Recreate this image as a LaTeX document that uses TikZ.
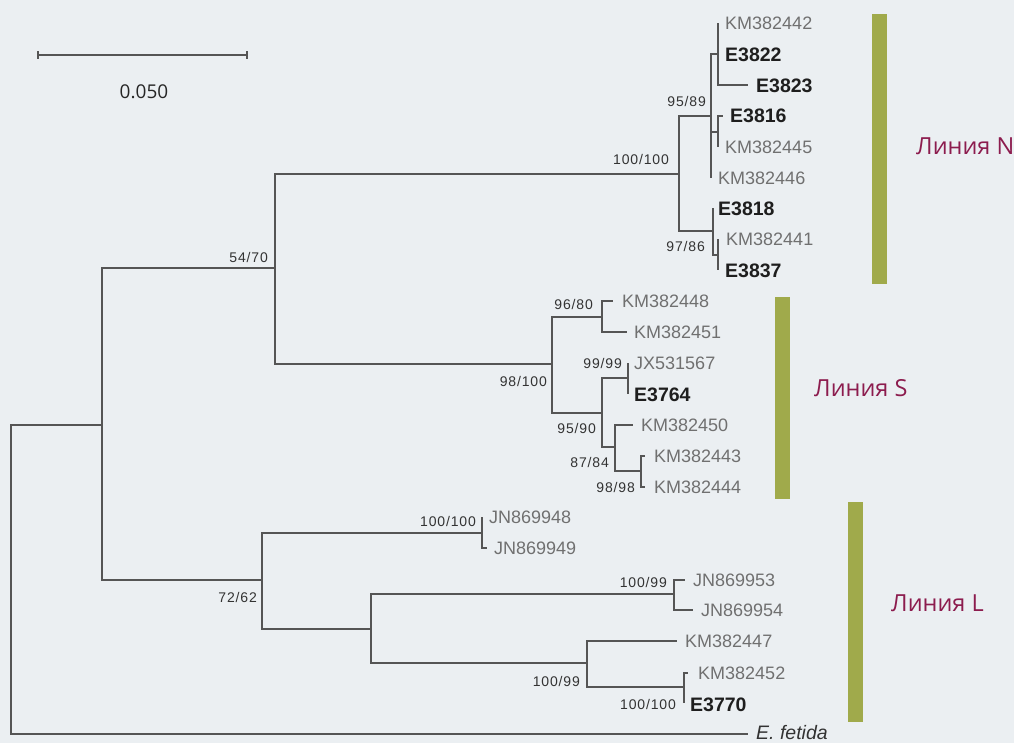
\documentclass[tikz,border=0pt]{standalone}
\usepackage{fontspec}
\setmainfont{Liberation Sans}
\newfontfamily\osans{Open Sans}
\newfontfamily\bsfont[LetterSpace=6]{Liberation Sans}
\definecolor{bg}{RGB}{235,239,242}
\definecolor{br}{RGB}{85,85,85}
\definecolor{lg}{RGB}{112,112,112}
\definecolor{dk}{RGB}{30,30,30}
\definecolor{barc}{RGB}{160,170,75}
\definecolor{lin}{RGB}{140,28,78}
\begin{document}
\begin{tikzpicture}[x=1pt,y=-1pt,
  branch/.style={draw=br, line width=1.3pt},
  leafg/.style={anchor=west, inner sep=0pt, text height=13pt, text depth=0pt, font=\fontsize{18}{18}\selectfont, text=lg},
  leafb/.style={leafg, text height=14pt, font=\fontsize{19.5}{19.5}\selectfont\bfseries, text=dk},
  bs/.style={anchor=east, inner sep=0pt, text height=10pt, text depth=0pt, font=\bsfont\fontsize{14}{14}\selectfont, text=black!80},
  clade/.style={anchor=west, inner sep=0pt, font=\osans\fontsize{23.5}{23.5}\selectfont, text=lin, text height=17pt, text depth=0pt},
  barst/.style={fill=barc, draw=none}]
\fill[bg] (0,0) rectangle (1014,743);
\useasboundingbox (0,0) rectangle (1014,743);

% scale bar
\coordinate (s1) at (38,55);
\coordinate (s2) at (247,55);
\draw[branch] (s1) -- (s2);
\draw[branch] ([yshift=-4pt]s1) -- ([yshift=4pt]s1);
\draw[branch] ([yshift=-4pt]s2) -- ([yshift=4pt]s2);
\node[inner sep=0pt, font=\osans\fontsize{19}{19}\selectfont, text=black!85] (scl) at (144,92) {0.050};

% internal nodes
\coordinate (r) at (11,580);
\coordinate (A) at (102,425);
\coordinate (B) at (275,268);
\coordinate (N) at (679,174);
\coordinate (N1) at (711,116);
\coordinate (N1a) at (718,54);
\coordinate (N1b) at (718,132);
\coordinate (N2) at (713,231);
\coordinate (N2a) at (718,255);
\coordinate (S) at (552,364);
\coordinate (S1) at (602,317);
\coordinate (S2) at (602,413);
\coordinate (S2a) at (628,378);
\coordinate (S2b) at (615,447);
\coordinate (S2c) at (641,471);
\coordinate (L) at (262,580);
\coordinate (L1) at (482,533);
\coordinate (L2) at (371,629);
\coordinate (L2a) at (674,594);
\coordinate (L2b) at (587,663);
\coordinate (L2c) at (684,687);

% tips
\coordinate (t1) at (718,23);
\coordinate (t2) at (718,54);
\coordinate (t3) at (748,85);
\coordinate (t4) at (723,116);
\coordinate (t5) at (718,147);
\coordinate (t6) at (711,178);
\coordinate (t7) at (713,208);
\coordinate (t8) at (718,239);
\coordinate (t9) at (718,270);
\coordinate (t10) at (613,301);
\coordinate (t11) at (627,332);
\coordinate (t12) at (628,363);
\coordinate (t13) at (628,394);
\coordinate (t14) at (633,425);
\coordinate (t15) at (645,456);
\coordinate (t16) at (645,487);
\coordinate (t17) at (482,517);
\coordinate (t18) at (487,548);
\coordinate (t19) at (685,580);
\coordinate (t20) at (693,610);
\coordinate (t21) at (677,641);
\coordinate (t22) at (688,673);
\coordinate (t23) at (684,703);
\coordinate (t24) at (748,734);

% branches
\draw[branch] (r) |- (A);
\draw[branch] (r) |- (t24);
\draw[branch] (A) |- (B);
\draw[branch] (A) |- (L);
\draw[branch] (B) |- (N);
\draw[branch] (B) |- (S);
\draw[branch] (N) |- (N1);
\draw[branch] (N) |- (N2);
\draw[branch] (N1) |- (N1a);
\draw[branch] (N1) |- (N1b);
\draw[branch] (N1) |- (t6);
\draw[branch] (N1a) |- (t1);
\draw[branch] (N1a) |- (t2);
\draw[branch] (N1a) |- (t3);
\draw[branch] (N1b) |- (t4);
\draw[branch] (N1b) |- (t5);
\draw[branch] (N2) |- (t7);
\draw[branch] (N2) |- (N2a);
\draw[branch] (N2a) |- (t8);
\draw[branch] (N2a) |- (t9);
\draw[branch] (S) |- (S1);
\draw[branch] (S) |- (S2);
\draw[branch] (S1) |- (t10);
\draw[branch] (S1) |- (t11);
\draw[branch] (S2) |- (S2a);
\draw[branch] (S2) |- (S2b);
\draw[branch] (S2a) |- (t12);
\draw[branch] (S2a) |- (t13);
\draw[branch] (S2b) |- (t14);
\draw[branch] (S2b) |- (S2c);
\draw[branch] (S2c) |- (t15);
\draw[branch] (S2c) |- (t16);
\draw[branch] (L) |- (L1);
\draw[branch] (L) |- (L2);
\draw[branch] (L1) |- (t17);
\draw[branch] (L1) |- (t18);
\draw[branch] (L2) |- (L2a);
\draw[branch] (L2) |- (L2b);
\draw[branch] (L2a) |- (t19);
\draw[branch] (L2a) |- (t20);
\draw[branch] (L2b) |- (t21);
\draw[branch] (L2b) |- (L2c);
\draw[branch] (L2c) |- (t22);
\draw[branch] (L2c) |- (t23);

% leaf labels
\node[leafg] (n1) at (725,23) {KM382442};
\node[leafb] (n2) at (725,55) {E3822};
\node[leafb] (n3) at (756,86) {E3823};
\node[leafb] (n4) at (730,116) {E3816};
\node[leafg] (n5) at (725,147) {KM382445};
\node[leafg] (n6) at (718,178) {KM382446};
\node[leafb] (n7) at (718,209) {E3818};
\node[leafg] (n8) at (726,239) {KM382441};
\node[leafb] (n9) at (725,270) {E3837};
\node[leafg] (n10) at (622,301) {KM382448};
\node[leafg] (n11) at (634,332) {KM382451};
\node[leafg] (n12) at (634,363) {JX531567};
\node[leafb] (n13) at (634,394) {E3764};
\node[leafg] (n14) at (641,425) {KM382450};
\node[leafg] (n15) at (654,456) {KM382443};
\node[leafg] (n16) at (654,487) {KM382444};
\node[leafg] (n17) at (489,517) {JN869948};
\node[leafg] (n18) at (494,548) {JN869949};
\node[leafg] (n19) at (693,580) {JN869953};
\node[leafg] (n20) at (701,610) {JN869954};
\node[leafg] (n21) at (685,641) {KM382447};
\node[leafg] (n22) at (698,673) {KM382452};
\node[leafb] (n23) at (690,704) {E3770};
\node[leafg, text=black!80, text height=14pt, font=\fontsize{19.5}{19.5}\selectfont\itshape] (n24) at (756,732) {E.~fetida};

% bootstrap values
\node[bs] (b1) at (268,257) {54/70};
\node[bs] (b2) at (669,160) {100/100};
\node[bs] (b3) at (706,102) {95/89};
\node[bs] (b4) at (705,247) {97/86};
\node[bs] (b5) at (593,304) {96/80};
\node[bs] (b6) at (547,381) {98/100};
\node[bs] (b7) at (622,363) {99/99};
\node[bs] (b8) at (596,428) {95/90};
\node[bs] (b9) at (609,462) {87/84};
\node[bs] (b10) at (635,487) {98/98};
\node[bs] (b11) at (257,597) {72/62};
\node[bs] (b12) at (476,521) {100/100};
\node[bs] (b13) at (667,582) {100/99};
\node[bs] (b14) at (580,681) {100/99};
\node[bs] (b15) at (676,704) {100/100};

% clade bars
\fill[barst] (872,14) rectangle (887,284);
\fill[barst] (775,297) rectangle (790,499);
\fill[barst] (848,502) rectangle (863,722);
\node[clade] (cN) at (916,146) {Линия N};
\node[clade] (cS) at (814,388) {Линия S};
\node[clade] (cL) at (891,603) {Линия L};
\end{tikzpicture}
\end{document}
